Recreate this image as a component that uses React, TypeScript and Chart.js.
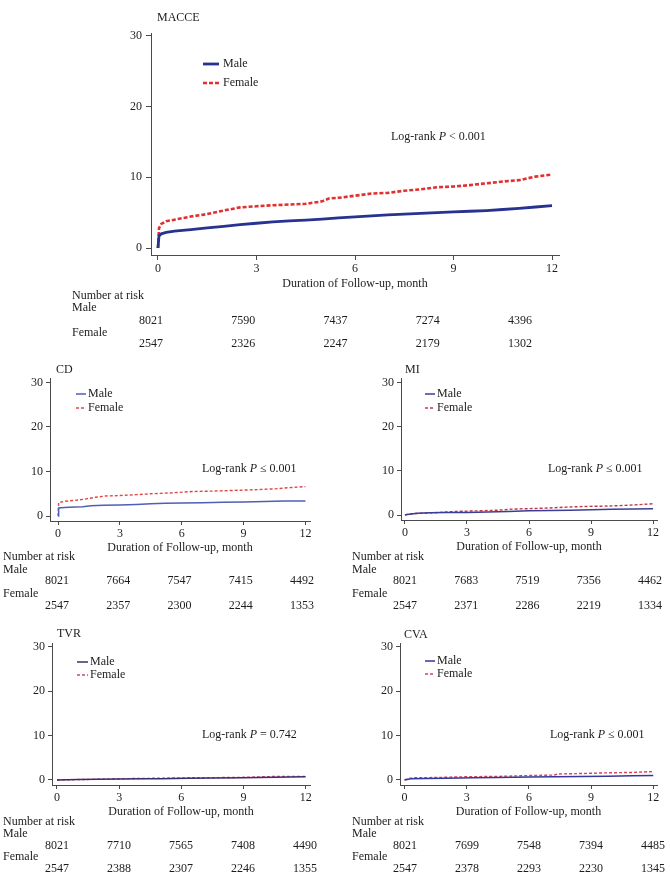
import React, { useEffect, useRef } from "react";
import { Chart, registerables } from "chart.js";

Chart.register(...registerables);

const FONT = '"Liberation Serif", "Times New Roman", Times, serif';
const TEXT = "#1c1c1c";
const AXIS = "#4a4a4a";

// ---------- shared labels ----------
const xTicks = [0, 3, 6, 9, 12];
const yTicks = [0, 10, 20, 30];
const xTitle = "Duration of Follow-up, month";
const riskTitle = "Number at risk";
const groupNames = ["Male", "Female"];

// ---------- MACCE ----------
const macceMaleT = [0, 0.03, 0.1, 0.25, 0.5, 1, 1.5, 2, 2.5, 3, 3.5, 4, 4.5, 5, 5.5, 6, 6.5, 7, 7.5, 8, 8.5, 9, 9.5, 10, 10.5, 11, 11.5, 12];
const macceMaleV = [0, 1.7, 2.0, 2.2, 2.4, 2.6, 2.85, 3.05, 3.3, 3.5, 3.7, 3.85, 3.95, 4.1, 4.25, 4.4, 4.55, 4.7, 4.8, 4.9, 5.0, 5.1, 5.2, 5.3, 5.45, 5.6, 5.8, 6.0];
const macceFemaleT = [0, 0.03, 0.1, 0.25, 0.5, 1, 1.5, 2, 2.5, 3, 3.5, 4, 4.5, 5, 5.2, 5.5, 6, 6.5, 7, 7.5, 8, 8.5, 9, 9.5, 10, 10.5, 11, 11.5, 12];
const macceFemaleV = [0, 2.8, 3.4, 3.8, 4.0, 4.45, 4.8, 5.3, 5.75, 5.9, 6.05, 6.15, 6.25, 6.6, 7.0, 7.1, 7.4, 7.7, 7.8, 8.1, 8.3, 8.6, 8.7, 8.9, 9.15, 9.4, 9.6, 10.1, 10.4];
const macceRiskMale = [8021, 7590, 7437, 7274, 4396];
const macceRiskFemale = [2547, 2326, 2247, 2179, 1302];

// ---------- CD ----------
const cdMaleT = [0, 0.03, 0.3, 0.8, 1.2, 1.6, 2.2, 3, 3.8, 4.5, 5.2, 6, 7, 8, 9, 10, 11, 12];
const cdMaleV = [0, 1.8, 1.9, 2.0, 2.1, 2.3, 2.4, 2.5, 2.6, 2.75, 2.85, 2.95, 3.0, 3.1, 3.15, 3.25, 3.35, 3.4];
const cdFemaleT = [0, 0.03, 0.3, 0.8, 1.3, 1.8, 2.3, 3, 3.8, 4.5, 5.5, 6.5, 7.5, 8.5, 9.5, 10.5, 11.3, 12];
const cdFemaleV = [0, 3.0, 3.3, 3.5, 3.8, 4.2, 4.5, 4.6, 4.8, 5.0, 5.2, 5.5, 5.6, 5.75, 5.9, 6.1, 6.4, 6.6];
const cdRiskMale = [8021, 7664, 7547, 7415, 4492];
const cdRiskFemale = [2547, 2357, 2300, 2244, 1353];

// ---------- MI ----------
const miMaleT = [0, 0.2, 0.6, 1.2, 2, 3, 4, 5, 6, 7, 8, 9, 10, 11, 12];
const miMaleV = [0, 0.2, 0.4, 0.5, 0.55, 0.6, 0.7, 0.8, 0.95, 1.05, 1.1, 1.2, 1.3, 1.35, 1.45];
const miFemaleT = [0, 0.1, 0.5, 1.2, 2, 2.7, 3.5, 4.5, 5.2, 6, 7, 7.8, 8.7, 9.5, 10.5, 11.3, 12];
const miFemaleV = [0, 0.2, 0.35, 0.45, 0.7, 0.85, 0.95, 1.1, 1.35, 1.45, 1.6, 1.8, 1.95, 2.0, 2.15, 2.35, 2.55];
const miRiskMale = [8021, 7683, 7519, 7356, 4462];
const miRiskFemale = [2547, 2371, 2286, 2219, 1334];

// ---------- TVR ----------
const tvrMaleT = [0, 1, 2, 3, 4, 5, 6.3, 7.5, 9, 10.5, 12];
const tvrMaleV = [0, 0.1, 0.15, 0.2, 0.25, 0.3, 0.4, 0.45, 0.5, 0.6, 0.7];
const tvrFemaleT = [0, 1.2, 2.5, 3.3, 5, 6.5, 8.2, 9, 10.6, 12];
const tvrFemaleV = [0, 0.1, 0.2, 0.3, 0.4, 0.5, 0.55, 0.6, 0.8, 0.8];
const tvrRiskMale = [8021, 7710, 7565, 7408, 4490];
const tvrRiskFemale = [2547, 2388, 2307, 2246, 1355];

// ---------- CVA ----------
const cvaMaleT = [0, 0.3, 1, 2, 3.3, 4.5, 6, 7.3, 8.5, 9.8, 11, 12];
const cvaMaleV = [0, 0.25, 0.35, 0.4, 0.5, 0.55, 0.65, 0.75, 0.8, 0.85, 0.95, 1.0];
const cvaFemaleT = [0, 0.1, 0.4, 1.5, 2.2, 3.3, 4.5, 6, 7.2, 7.4, 8.5, 9.7, 11, 12];
const cvaFemaleV = [0, 0.2, 0.5, 0.55, 0.65, 0.75, 0.8, 1.0, 1.1, 1.35, 1.45, 1.6, 1.7, 1.9];
const cvaRiskMale = [8021, 7699, 7548, 7394, 4485];
const cvaRiskFemale = [2547, 2378, 2293, 2230, 1345];

// ---------- panel layout ----------
type Panel = {
  title: string;
  left: number; top: number; w: number; h: number;
  box: { l: number; r: number; t: number; b: number };
  xMin: number; xMax: number; yMin: number; yMax: number;
  male: [number[], number[]];
  female: [number[], number[]];
  colors: [string, string];
  widths: [number, number];
  dash: number[];
  titlePos: [number, number];
  legend: { x1: number; x2: number; tx: number; y1: number; y2: number };
  logrank: { x: number; y: number; op: string; p: string };
  risk: { lx: number; y: number[]; x0: number; x1: number; male: number[]; female: number[] };
  xAxisH: number; tickLen: number; tickPad: number;
};

const panels: Panel[] = [
  {
    title: "MACCE", left: 0, top: 0, w: 670, h: 352,
    box: { l: 151, r: 559, t: 33, b: 255 },
    xMin: -0.213, xMax: 12.213, yMin: -0.99, yMax: 30.42,
    male: [macceMaleT, macceMaleV], female: [macceFemaleT, macceFemaleV],
    colors: ["#283290", "#e0302f"], widths: [2.8, 2.6], dash: [4, 2],
    titlePos: [157, 18],
    legend: { x1: 203, x2: 219, tx: 223, y1: 64, y2: 83 },
    logrank: { x: 391, y: 137, op: "<", p: "0.001" },
    risk: { lx: 72, y: [296, 308, 321, 333, 344], x0: 151, x1: 520, male: macceRiskMale, female: macceRiskFemale },
    xAxisH: 36, tickLen: 5, tickPad: 4,
  },
  {
    title: "CD", left: 0, top: 352, w: 335, h: 260,
    box: { l: 50, r: 310, t: 26, b: 169 },
    xMin: -0.39, xMax: 12.22, yMin: -1.12, yMax: 31.0,
    male: [cdMaleT, cdMaleV], female: [cdFemaleT, cdFemaleV],
    colors: ["#4f5fb5", "#e04848"], widths: [1.5, 1.4], dash: [3, 2],
    titlePos: [56, 18],
    legend: { x1: 76, x2: 86, tx: 88, y1: 42, y2: 56 },
    logrank: { x: 202, y: 117, op: "\u2264", p: "0.001" },
    risk: { lx: 3, y: [205, 218, 229, 242, 254], x0: 57, x1: 302, male: cdRiskMale, female: cdRiskFemale },
    xAxisH: 34, tickLen: 4, tickPad: 3,
  },
  {
    title: "MI", left: 335, top: 352, w: 335, h: 260,
    box: { l: 66, r: 322, t: 26, b: 168 },
    xMin: -0.19, xMax: 12.19, yMin: -1.12, yMax: 31.0,
    male: [miMaleT, miMaleV], female: [miFemaleT, miFemaleV],
    colors: ["#3a3f95", "#c0384a"], widths: [1.5, 1.4], dash: [3, 2],
    titlePos: [70, 18],
    legend: { x1: 90, x2: 100, tx: 102, y1: 42, y2: 56 },
    logrank: { x: 213, y: 117, op: "\u2264", p: "0.001" },
    risk: { lx: 17, y: [205, 218, 229, 242, 254], x0: 70, x1: 315, male: miRiskMale, female: miRiskFemale },
    xAxisH: 34, tickLen: 4, tickPad: 3,
  },
  {
    title: "TVR", left: 0, top: 612, w: 335, h: 267,
    box: { l: 52, r: 310, t: 31, b: 173 },
    xMin: -0.24, xMax: 12.21, yMin: -1.13, yMax: 30.83,
    male: [tvrMaleT, tvrMaleV], female: [tvrFemaleT, tvrFemaleV],
    colors: ["#3d2c70", "#c84a78"], widths: [1.5, 1.4], dash: [3, 2],
    titlePos: [57, 22],
    legend: { x1: 77, x2: 88, tx: 90, y1: 50, y2: 63 },
    logrank: { x: 202, y: 123, op: "=", p: "0.742" },
    risk: { lx: 3, y: [210, 222, 234, 245, 257], x0: 57, x1: 305, male: tvrRiskMale, female: tvrRiskFemale },
    xAxisH: 34, tickLen: 4, tickPad: 3,
  },
  {
    title: "CVA", left: 335, top: 612, w: 335, h: 267,
    box: { l: 65, r: 322, t: 31, b: 173 },
    xMin: -0.22, xMax: 12.18, yMin: -1.13, yMax: 30.83,
    male: [cvaMaleT, cvaMaleV], female: [cvaFemaleT, cvaFemaleV],
    colors: ["#34389a", "#d8405a"], widths: [1.5, 1.4], dash: [3, 2],
    titlePos: [69, 23],
    legend: { x1: 90, x2: 100, tx: 102, y1: 49, y2: 62 },
    logrank: { x: 215, y: 123, op: "\u2264", p: "0.001" },
    risk: { lx: 17, y: [210, 222, 234, 245, 257], x0: 70, x1: 318, male: cvaRiskMale, female: cvaRiskFemale },
    xAxisH: 34, tickLen: 4, tickPad: 3,
  },
];

function toPoints(t: number[], v: number[]) {
  return t.map((x, i) => ({ x, y: v[i] }));
}

function makeAnnotPlugin(p: Panel) {
  return {
    id: "annot",
    afterDraw(chart: any) {
      const ctx: CanvasRenderingContext2D = chart.ctx;
      ctx.save();
      ctx.fillStyle = TEXT;
      ctx.textBaseline = "middle";
      ctx.textAlign = "left";
      ctx.font = `12px ${FONT}`;
      // title
      ctx.fillText(p.title, p.titlePos[0], p.titlePos[1]);
      // legend
      const lg = p.legend;
      ctx.lineCap = "butt";
      ctx.strokeStyle = p.colors[0];
      ctx.lineWidth = p.widths[0];
      ctx.setLineDash([]);
      ctx.beginPath();
      ctx.moveTo(lg.x1, lg.y1);
      ctx.lineTo(lg.x2, lg.y1);
      ctx.stroke();
      ctx.strokeStyle = p.colors[1];
      ctx.lineWidth = p.widths[1];
      ctx.setLineDash(p.dash);
      ctx.beginPath();
      ctx.moveTo(lg.x1, lg.y2);
      ctx.lineTo(lg.x2, lg.y2);
      ctx.stroke();
      ctx.setLineDash([]);
      ctx.fillText(groupNames[0], lg.tx, lg.y1);
      ctx.fillText(groupNames[1], lg.tx, lg.y2);
      // log-rank
      const lr = p.logrank;
      let x = lr.x;
      const part1 = "Log-rank ";
      ctx.fillText(part1, x, lr.y);
      x += ctx.measureText(part1).width;
      ctx.font = `italic 12px ${FONT}`;
      ctx.fillText("P", x, lr.y);
      x += ctx.measureText("P").width;
      ctx.font = `12px ${FONT}`;
      ctx.fillText(` ${lr.op} ${lr.p}`, x, lr.y);
      // risk table
      const rk = p.risk;
      ctx.fillText(riskTitle, rk.lx, rk.y[0]);
      ctx.fillText(groupNames[0], rk.lx, rk.y[1]);
      ctx.fillText(groupNames[1], rk.lx, rk.y[3]);
      ctx.textAlign = "center";
      const step = (rk.x1 - rk.x0) / (rk.male.length - 1);
      rk.male.forEach((n, i) => ctx.fillText(String(n), rk.x0 + i * step, rk.y[2]));
      rk.female.forEach((n, i) => ctx.fillText(String(n), rk.x0 + i * step, rk.y[4]));
      ctx.restore();
    },
  };
}

function PanelChart({ p }: { p: Panel }) {
  const ref = useRef<HTMLCanvasElement>(null);
  useEffect(() => {
    const canvas = ref.current!;
    const tickFont = { family: FONT, size: 12 };
    const chart = new Chart(canvas, {
      type: "line",
      data: {
        datasets: [
          {
            label: groupNames[0],
            data: toPoints(p.male[0], p.male[1]),
            borderColor: p.colors[0],
            borderWidth: p.widths[0],
            stepped: false,
            tension: 0,
            pointRadius: 0,
            fill: false,
          },
          {
            label: groupNames[1],
            data: toPoints(p.female[0], p.female[1]),
            borderColor: p.colors[1],
            borderWidth: p.widths[1],
            borderDash: p.dash,
            stepped: false,
            tension: 0,
            pointRadius: 0,
            fill: false,
          },
        ],
      },
      options: {
        responsive: false,
        animation: false,
        devicePixelRatio: 1,
        layout: {
          padding: {
            left: p.box.l - 40,
            top: p.box.t,
            right: p.w - p.box.r,
            bottom: p.h - p.box.b - p.xAxisH,
          },
        },
        plugins: {
          legend: { display: false },
          tooltip: { enabled: false },
          title: { display: false },
        },
        scales: {
          x: {
            type: "linear",
            min: p.xMin,
            max: p.xMax,
            afterBuildTicks: (s: any) => {
              s.ticks = xTicks.map((v) => ({ value: v }));
            },
            afterFit: (s: any) => {
              s.height = p.xAxisH;
            },
            grid: {
              display: true,
              drawOnChartArea: false,
              drawTicks: true,
              tickLength: p.tickLen,
              color: AXIS,
              lineWidth: 1,
            },
            border: { display: true, color: AXIS, width: 1 },
            ticks: {
              font: tickFont,
              color: TEXT,
              padding: 2,
              maxRotation: 0,
              autoSkip: false,
              callback: (v: any) => String(v),
            },
            title: {
              display: true,
              text: xTitle,
              font: { family: FONT, size: 12 },
              color: TEXT,
              padding: 0,
            },
          },
          y: {
            type: "linear",
            min: p.yMin,
            max: p.yMax,
            afterBuildTicks: (s: any) => {
              s.ticks = yTicks.map((v) => ({ value: v }));
            },
            afterFit: (s: any) => {
              s.width = 40;
            },
            grid: {
              display: true,
              drawOnChartArea: false,
              drawTicks: true,
              tickLength: p.tickLen,
              color: AXIS,
              lineWidth: 1,
            },
            border: { display: true, color: AXIS, width: 1 },
            ticks: {
              font: tickFont,
              color: TEXT,
              padding: p.tickPad,
              autoSkip: false,
              callback: (v: any) => String(v),
            },
          },
        },
      } as any,
      plugins: [makeAnnotPlugin(p)],
    } as any);
    return () => chart.destroy();
  }, [p]);
  return (
    <div style={{ position: "absolute", left: p.left, top: p.top, width: p.w, height: p.h }}>
      <canvas ref={ref} width={p.w} height={p.h} style={{ width: p.w, height: p.h, display: "block" }} />
    </div>
  );
}

export default function App() {
  return (
    <div style={{ position: "absolute", left: 0, top: 0, width: 670, height: 879, background: "#ffffff", overflow: "hidden" }}>
      {panels.map((p) => (
        <PanelChart key={p.title} p={p} />
      ))}
    </div>
  );
}
